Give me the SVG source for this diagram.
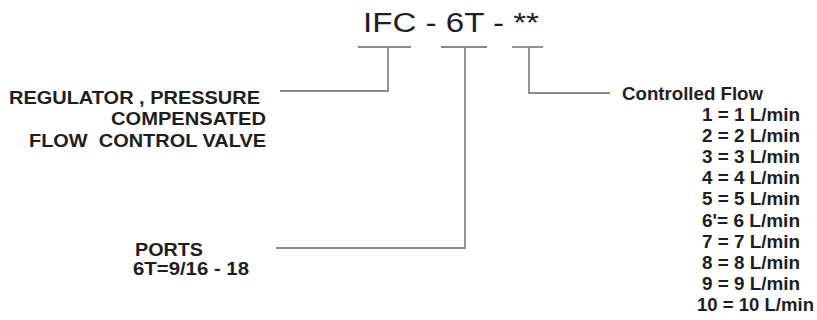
<svg xmlns="http://www.w3.org/2000/svg" width="817" height="320" viewBox="0 0 817 320">
<style>
  .t{font-family:"Liberation Sans",Arial,sans-serif;fill:#1e1e1e;}
  .lbl{font-size:18.5px;font-weight:bold;white-space:pre;}
  .title{font-size:27px;}
  .ln{fill:none;stroke:#8a8a8a;stroke-width:1.8;}
</style>
<rect width="817" height="320" fill="#ffffff"/>
<g id="title">
  <text class="t title" x="363" y="32" textLength="176" lengthAdjust="spacingAndGlyphs">IFC - 6T - **</text>
</g>
<g id="connectors">
  <line class="ln" x1="358" y1="47" x2="411" y2="47"/>
  <line class="ln" x1="441" y1="47" x2="487" y2="47"/>
  <line class="ln" x1="512" y1="47" x2="543" y2="47"/>
  <path class="ln" d="M388,47 V91 H280"/>
  <path class="ln" d="M465,47 V248 H276"/>
  <path class="ln" d="M529,47 V93 H610"/>
</g>
<g id="node-regulator">
  <text class="t lbl" x="9" y="104" textLength="251" lengthAdjust="spacingAndGlyphs">REGULATOR , PRESSURE</text>
  <text class="t lbl" x="111" y="125" textLength="155" lengthAdjust="spacingAndGlyphs">COMPENSATED</text>
  <text class="t lbl" x="29" y="147" textLength="237" lengthAdjust="spacingAndGlyphs">FLOW  CONTROL VALVE</text>
</g>
<g id="node-ports">
  <text class="t lbl" x="135" y="256" textLength="68" lengthAdjust="spacingAndGlyphs">PORTS</text>
  <text class="t lbl" x="133" y="275" textLength="116" lengthAdjust="spacingAndGlyphs">6T=9/16 - 18</text>
</g>
<g id="node-flow">
  <text class="t lbl" x="622" y="100" textLength="141" lengthAdjust="spacingAndGlyphs">Controlled Flow</text>
  <text class="t lbl" x="702" y="121" textLength="98" lengthAdjust="spacingAndGlyphs">1 = 1 L/min</text>
  <text class="t lbl" x="702" y="142" textLength="98" lengthAdjust="spacingAndGlyphs">2 = 2 L/min</text>
  <text class="t lbl" x="702" y="163" textLength="98" lengthAdjust="spacingAndGlyphs">3 = 3 L/min</text>
  <text class="t lbl" x="702" y="184" textLength="98" lengthAdjust="spacingAndGlyphs">4 = 4 L/min</text>
  <text class="t lbl" x="702" y="205" textLength="98" lengthAdjust="spacingAndGlyphs">5 = 5 L/min</text>
  <text class="t lbl" x="702" y="227" textLength="98" lengthAdjust="spacingAndGlyphs">6'= 6 L/min</text>
  <text class="t lbl" x="702" y="248" textLength="98" lengthAdjust="spacingAndGlyphs">7 = 7 L/min</text>
  <text class="t lbl" x="702" y="269" textLength="98" lengthAdjust="spacingAndGlyphs">8 = 8 L/min</text>
  <text class="t lbl" x="702" y="290" textLength="98" lengthAdjust="spacingAndGlyphs">9 = 9 L/min</text>
  <text class="t lbl" x="697" y="311" textLength="117" lengthAdjust="spacingAndGlyphs">10 = 10 L/min</text>
</g>
</svg>
